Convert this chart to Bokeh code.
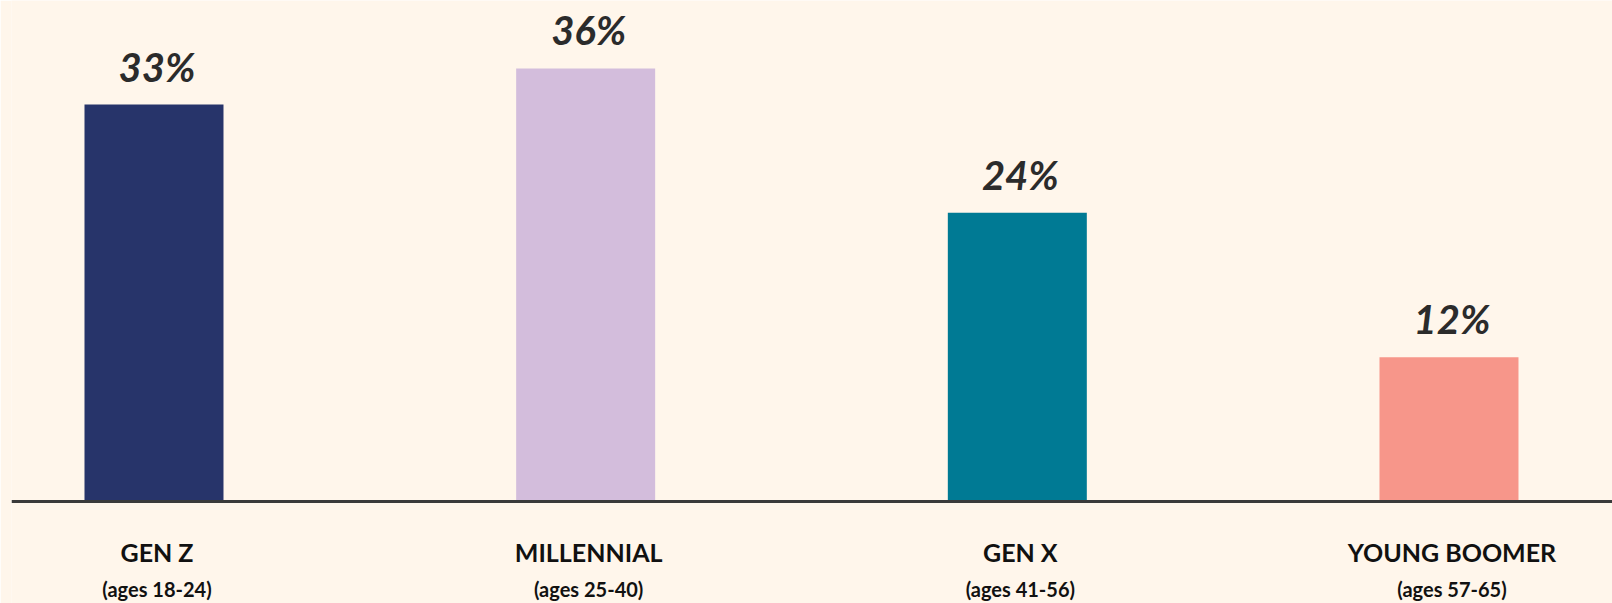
from bokeh.plotting import figure
from bokeh.models import Range1d, Span, ColumnDataSource
from bokeh.core.properties import value
from bokeh.embed import file_html
from bokeh.resources import INLINE

# ---- data ----
generations = ["GEN Z", "MILLENNIAL", "GEN X", "YOUNG BOOMER"]
age_ranges = ["(ages 18-24)", "(ages 25-40)", "(ages 41-56)", "(ages 57-65)"]
shares = [33, 36, 24, 12]
value_labels = ["33%", "36%", "24%", "12%"]
bar_colors = ["#27346A", "#D3BDDC", "#007A94", "#F7968A"]

BG = "#FFF6EB"
W, H = 1612, 603

positions = list(range(len(generations)))
src = ColumnDataSource(dict(x=positions, top=shares, color=bar_colors,
                            vlabel=value_labels, gen=generations, ages=age_ranges))

p = figure(width=W, height=H, output_backend="svg", toolbar_location=None,
           x_range=Range1d(-0.3301, 3.3788), y_range=Range1d(-8.48, 41.65),
           min_border_left=11, min_border_right=0, min_border_top=0, min_border_bottom=0,
           background_fill_color=BG, border_fill_color=BG, outline_line_color=None)
p.axis.visible = False
p.grid.visible = False

p.vbar(x="x", top="top", bottom=0, width=0.322, color="color", line_color=None, source=src)

p.add_layout(Span(location=0, dimension="width", line_color="#3a3a3a", line_width=3))

p.text(x="x", y="top", text="vlabel", source=src, text_align="center",
       text_baseline="alphabetic", y_offset=-38, x_offset=3,
       text_font=value("Lato"), text_font_style="bold italic",
       text_font_size="40px", text_color="#2b2b2b")

p.text(x="x", y=0, text="gen", source=src, text_align="center",
       text_baseline="alphabetic", y_offset=51, x_offset=3,
       text_font=value("Lato"), text_font_style="bold",
       text_font_size="25px", text_color="#111111")

p.text(x="x", y=0, text="ages", source=src, text_align="center",
       text_baseline="alphabetic", y_offset=88, x_offset=3,
       text_font=value("Lato"), text_font_style="bold",
       text_font_size="20px", text_color="#111111")

open("out.html", "w").write(file_html(p, INLINE))
